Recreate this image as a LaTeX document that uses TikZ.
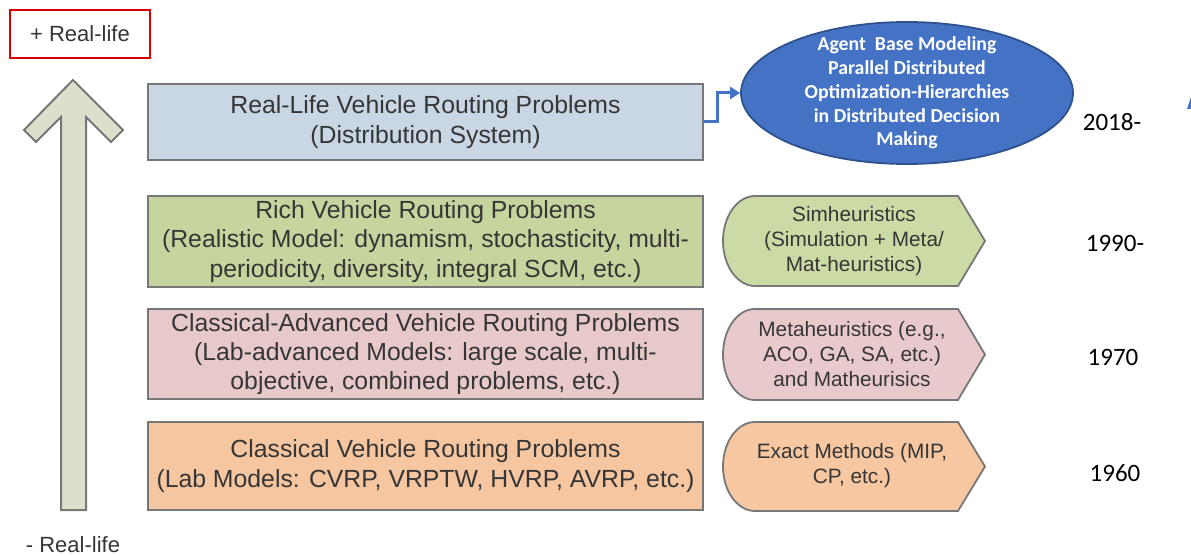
\documentclass[tikz,border=0pt]{standalone}
\usepackage{fontspec}
\setmainfont{Liberation Sans}
\newfontfamily\calibri{Carlito}
\usepackage{xcolor}
\usepackage{tikz}
\usetikzlibrary{arrows.meta,positioning,shapes.geometric}

\definecolor{realfill}{HTML}{C9D6E4}
\definecolor{richfill}{HTML}{C6D59D}
\definecolor{advfill}{HTML}{E8C9C9}
\definecolor{clsfill}{HTML}{F5C6A0}
\definecolor{simfill}{HTML}{CCDAA6}
\definecolor{metafill}{HTML}{E9CACC}
\definecolor{exactfill}{HTML}{F6C7A1}
\definecolor{arrowfill}{HTML}{DCDFCB}
\definecolor{abmblue}{HTML}{4472C4}
\definecolor{abmedge}{HTML}{2F528F}
\definecolor{boxtext}{HTML}{363636}
\definecolor{boxedge}{HTML}{777777}

\begin{document}
\begin{tikzpicture}[
				x = 0.5pt, y = -0.5pt, % one unit = one pixel of the layout
				>= {Triangle[length=5pt, width=6pt]}, % arrow head style
				line join = miter
			]
			
			\tikzstyle{prob}=[
			draw = boxedge,
			line width = 0.9pt,
			minimum width = 277.5pt,
			inner sep = 0pt,
			align = center,
			text = boxtext,
			font = \fontsize{12.4}{14.6}\selectfont
			]
			\tikzstyle{method}=[
			draw = boxedge,
			line width = 0.9pt
			]
			\tikzstyle{methodtext}=[
			align = center,
			inner sep = 0pt,
			text = boxtext,
			font = \fontsize{10.4}{12.5}\selectfont
			]
			\tikzstyle{year}=[
			font = \calibri\fontsize{12.5}{15}\selectfont
			]
			\tikzstyle{conn}=[
			->, draw = abmblue,
			line width = 1.5pt
			]
			
			\useasboundingbox (0,0) rectangle (1191,556);
			
			% real-life scale
			\node[draw = red!85!black, line width = 0.9pt, minimum width = 70pt, minimum height = 24pt, text = boxtext, font = \fontsize{11}{13}\selectfont] (plus) at (80,34) {+ Real-life};
			\node[text = boxtext, font = \fontsize{11}{13}\selectfont] (minus) at (73,545) {- Real-life};
			\draw[draw = boxedge, fill = arrowfill, line width = 1pt] (73,80) -- (123,130) -- (111,142) -- (86,117) -- (86,510) -- (61,510) -- (61,117) -- (36,142) -- (24,130) -- cycle;
			
			% problem classes
			\node[prob, fill = realfill, minimum height = 38pt] (real) at (425.5,122) {Real-Life Vehicle Routing Problems\\(Distribution System)};
			\node[prob, fill = richfill, minimum height = 45.5pt] (rich) at (425.5,241.5) {Rich Vehicle Routing Problems\\(Realistic Model: dynamism, stochasticity, multi-\\periodicity, diversity, integral SCM, etc.)};
			\node[prob, fill = advfill, minimum height = 45pt] (adv) at (425.5,354) {Classical-Advanced Vehicle Routing Problems\\(Lab-advanced Models: large scale, multi-\\objective, combined problems, etc.)};
			\node[prob, fill = clsfill, minimum height = 44pt] (cls) at (425.5,466) {Classical Vehicle Routing Problems\\(Lab Models: CVRP, VRPTW, HVRP, AVRP, etc.)};
			
			% solution methods
			\draw[method, fill = simfill] (958,196) -- (985,241) -- (958,286) -- (755,286) arc[start angle = 270, end angle = 90, x radius = 16pt, y radius = 22.5pt] -- cycle;
			\draw[method, fill = metafill] (958,309) -- (985,354.5) -- (958,400) -- (755,400) arc[start angle = 270, end angle = 90, x radius = 16pt, y radius = 22.75pt] -- cycle;
			\draw[method, fill = exactfill] (958,422) -- (985,466.5) -- (958,511) -- (755,511) arc[start angle = 270, end angle = 90, x radius = 16pt, y radius = 22.25pt] -- cycle;
			\node[methodtext] (sim) at (854,241) {Simheuristics\\(Simulation + Meta/\\Mat-heuristics)};
			\node[methodtext] (meta) at (852,354) {Metaheuristics (e.g.,\\ACO, GA, SA, etc.)\\and Matheurisics};
			\node[methodtext] (exact) at (852,466) {Exact Methods (MIP,\\CP, etc.)};
			
			% agent based modeling
			\node[ellipse, draw = abmedge, fill = abmblue, line width = 0.9pt, minimum width = 166pt, minimum height = 71pt, inner sep = 0pt] (abm) at (907,93) {};
			\node[align = center, text = white, inner sep = 0pt, font = \calibri\bfseries\fontsize{9.9}{11.9}\selectfont] (abmtext) at (abm.center) {Agent\ \ Base Modeling\\Parallel Distributed\\Optimization-Hierarchies\\in Distributed Decision\\Making};
			\draw[conn] (real.east) -- ++(14,0) |- (abm.west);
			
			% years
			\node[year] (y2018) at (1112,122) {2018-};
			\node[year] (y1990) at (1115,243) {1990-};
			\node[year] (y1970) at (1113,357) {1970};
			\node[year] (y1960) at (1115,473) {1960};
			
			\fill[abmblue] (1187,109) -- (1191,97) -- (1191,109) -- cycle;
		\end{tikzpicture}
\end{document}
